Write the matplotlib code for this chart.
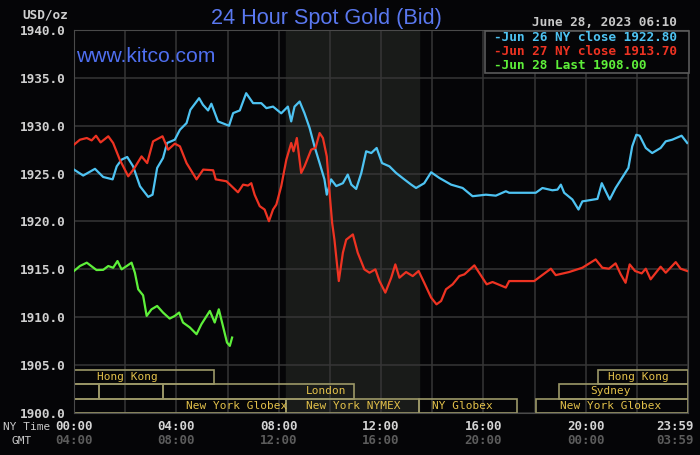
import matplotlib
matplotlib.use("Agg")
import matplotlib.pyplot as plt
import matplotlib.transforms as mtransforms
from matplotlib.patches import Rectangle

# NY-time hours after midnight and bid prices
jun26_hours = [0.00, 0.36, 0.82, 1.14, 1.51, 1.67, 1.86, 2.08, 2.31, 2.58, 2.90, 3.07, 3.25, 3.48,
               3.64, 3.94, 4.14, 4.40, 4.55, 4.89, 5.04, 5.24, 5.37, 5.63, 6.06, 6.22, 6.48, 6.73,
               7.00, 7.32, 7.52, 7.78, 8.10, 8.36, 8.49, 8.62, 8.82, 9.01, 9.21, 9.40, 9.60, 9.79,
               9.88, 10.05, 10.25, 10.51, 10.70, 10.84, 11.03, 11.23, 11.42, 11.62, 11.83, 12.04,
               12.33, 12.59, 12.91, 13.18, 13.37, 13.69, 13.96, 14.28, 14.74, 15.19, 15.58, 16.10,
               16.49, 16.88, 17.01, 18.05, 18.31, 18.70, 18.90, 19.03, 19.16, 19.48, 19.72, 19.87,
               20.46, 20.63, 20.94, 21.17, 21.67, 21.82, 21.98, 22.11, 22.35, 22.60, 22.93, 23.13,
               23.38, 23.75, 23.97]
jun26_price = [1925.42, 1924.80, 1925.50, 1924.65, 1924.40, 1925.76, 1926.46, 1926.74, 1925.76,
               1923.68, 1922.57, 1922.80, 1925.59, 1926.63, 1928.20, 1928.54, 1929.58, 1930.28,
               1931.67, 1932.88, 1932.19, 1931.60, 1932.30, 1930.45, 1930.00, 1931.32, 1931.60,
               1933.40, 1932.36, 1932.36, 1931.84, 1932.00, 1931.30, 1932.00, 1930.45, 1932.00,
               1932.53, 1931.30, 1929.76, 1927.85, 1926.10, 1924.40, 1922.80, 1924.40, 1923.70,
               1924.00, 1924.90, 1923.85, 1923.40, 1925.07, 1927.33, 1927.15, 1927.68, 1926.10,
               1925.76, 1925.07, 1924.40, 1923.85, 1923.50, 1924.00, 1925.14, 1924.55, 1923.85,
               1923.50, 1922.64, 1922.80, 1922.70, 1923.16, 1923.00, 1923.00, 1923.50, 1923.26,
               1923.33, 1923.85, 1923.00, 1922.30, 1921.25, 1922.10, 1922.36, 1924.00, 1922.30,
               1923.50, 1925.60, 1927.85, 1929.06, 1928.96, 1927.68, 1927.15, 1927.68, 1928.37,
               1928.54, 1928.96, 1928.20]

jun27_hours = [0.00, 0.23, 0.50, 0.69, 0.86, 1.04, 1.34, 1.53, 1.79, 2.12, 2.34, 2.64, 2.86, 3.09,
               3.46, 3.68, 3.94, 4.14, 4.40, 4.79, 5.05, 5.44, 5.54, 5.96, 6.41, 6.61, 6.80, 6.93,
               7.06, 7.26, 7.45, 7.62, 7.78, 7.91, 8.10, 8.30, 8.49, 8.58, 8.71, 8.88, 9.01, 9.27,
               9.44, 9.60, 9.73, 9.88, 9.99, 10.09, 10.18, 10.35, 10.51, 10.64, 10.90, 11.09, 11.35,
               11.55, 11.78, 11.94, 12.17, 12.40, 12.56, 12.72, 12.98, 13.24, 13.47, 13.69, 13.96,
               14.17, 14.35, 14.54, 14.80, 15.06, 15.26, 15.65, 16.13, 16.36, 16.88, 17.01, 17.99,
               18.25, 18.64, 18.83, 19.35, 19.87, 20.39, 20.65, 20.91, 21.17, 21.37, 21.56, 21.72,
               21.93, 22.19, 22.35, 22.54, 22.93, 23.13, 23.52, 23.71, 23.97]
jun27_price = [1928.02, 1928.54, 1928.72, 1928.47, 1928.96, 1928.26, 1928.90, 1928.20, 1926.46,
               1924.72, 1925.49, 1926.80, 1926.10, 1928.37, 1928.90, 1927.50, 1928.13, 1927.85,
               1926.10, 1924.40, 1925.42, 1925.35, 1924.40, 1924.20, 1923.05, 1923.85, 1923.75,
               1924.00, 1922.80, 1921.60, 1921.25, 1920.03, 1921.25, 1921.77, 1923.68, 1926.46,
               1928.20, 1927.33, 1928.72, 1925.07, 1925.76, 1927.50, 1927.68, 1929.24, 1928.72,
               1926.80, 1923.00, 1919.86, 1918.10, 1913.78, 1916.74, 1918.10, 1918.65, 1916.74,
               1915.00, 1914.65, 1915.00, 1913.78, 1912.57, 1914.13, 1915.52, 1914.13, 1914.72,
               1914.30, 1914.83, 1913.60, 1912.05, 1911.35, 1911.70, 1912.92, 1913.44, 1914.30,
               1914.48, 1915.42, 1913.44, 1913.68, 1913.10, 1913.78, 1913.78, 1914.30, 1915.07,
               1914.40, 1914.72, 1915.17, 1916.04, 1915.17, 1915.07, 1915.63, 1914.48, 1913.60,
               1915.52, 1914.83, 1914.58, 1915.07, 1913.96, 1915.28, 1914.65, 1915.76, 1915.07,
               1914.83]

jun28_hours = [0.00, 0.23, 0.50, 0.88, 1.14, 1.34, 1.53, 1.70, 1.86, 2.06, 2.25, 2.38, 2.51, 2.70,
               2.84, 3.03, 3.25, 3.48, 3.74, 3.94, 4.11, 4.26, 4.53, 4.79, 4.98, 5.31, 5.50, 5.66,
               5.82, 5.98, 6.09, 6.18]
jun28_price = [1914.83, 1915.35, 1915.70, 1914.93, 1914.95, 1915.35, 1915.17, 1915.87, 1915.00,
               1915.35, 1915.70, 1914.65, 1912.92, 1912.29, 1910.14, 1910.83, 1911.18, 1910.49,
               1909.86, 1910.14, 1910.49, 1909.45, 1908.93, 1908.23, 1909.27, 1910.66, 1909.45,
               1910.83, 1909.10, 1907.36, 1907.01, 1907.88]

legend_labels = ["Jun 26 NY close 1922.80", "Jun 27 NY close 1913.70", "Jun 28 Last 1908.00"]
stamp = "June 28, 2023 06:10"

# trading sessions: name, start hour, end hour, row (0 = top)
session_names = ["Hong Kong", "", "", "London", "New York Globex", "New York NYMEX",
                 "NY Globex", "New York Globex", "Sydney", "Hong Kong"]
session_start = [0.0, 0.0, 0.96, 3.46, 0.0, 8.28, 13.47, 18.06, 18.96, 20.50]
session_end = [5.46, 0.96, 3.46, 10.95, 8.28, 13.47, 17.33, 24.0, 24.0, 24.0]
session_row = [0, 1, 1, 1, 2, 2, 2, 2, 1, 0]
nymex_open, nymex_close = 8.28, 13.47

ny_ticks = [0, 4, 8, 12, 16, 20, 24]
ny_labels = ["00:00", "04:00", "08:00", "12:00", "16:00", "20:00", "23:59"]
gmt_labels = ["04:00", "08:00", "12:00", "16:00", "20:00", "00:00", "03:59"]

BG = "#050507"
MONO = "DejaVu Sans Mono"
W, H = 700, 455

fig = plt.figure(figsize=(7, 4.55), dpi=100, facecolor=BG)
ax = fig.add_axes([74 / W, 1 - 413 / H, 614 / W, 383 / H], facecolor=BG)
ax.set_xlim(0, 24)
ax.set_ylim(1900, 1940)

ax.axvspan(nymex_open, nymex_close, color="#191b19", zorder=0)
ax.set_xticks(range(0, 25, 2))
ax.set_yticks(range(1900, 1941, 5))
ax.set_yticklabels([f"{v:.1f}" for v in range(1900, 1941, 5)])
ax.grid(color="#363636", lw=1.1, zorder=1)
ax.set_axisbelow(True)
ax.tick_params(length=0, labelbottom=False, pad=6, colors="#d0d0d0")
for lab in ax.get_yticklabels():
    lab.set_fontfamily(MONO)
    lab.set_fontweight("bold")
    lab.set_fontsize(9.2)
for s in ax.spines.values():
    s.set_color("#4a4a4a")

ax.plot(jun26_hours, jun26_price, color="#4ec3f2", lw=1.6, zorder=3)
ax.plot(jun27_hours, jun27_price, color="#ee3322", lw=1.6, zorder=3)
ax.plot(jun28_hours, jun28_price, color="#5ef03a", lw=1.6, zorder=3)

# session boxes along the bottom
rows = [(1903.05, 1904.5), (1901.5, 1903.05), (1900.02, 1901.5)]
label_at = [2.1, None, None, 9.87, 6.37, 10.9, 15.19, 20.98, 20.96, 22.05]
for name, a, b, r, lx in zip(session_names, session_start, session_end, session_row, label_at):
    lo, hi = rows[r]
    ax.add_patch(Rectangle((a, lo), b - a, hi - lo, fill=False, ec="#9c9868", lw=1.2, zorder=2))
    if name:
        ax.text(lx, (lo + hi) / 2, name, color="#e2c04a", family=MONO, fontsize=8,
                ha="center", va="center", zorder=4)

# time labels under the plot
trans = mtransforms.blended_transform_factory(ax.transData, fig.transFigure)
for t, a, g in zip(ny_ticks, ny_labels, gmt_labels):
    ha = "right" if t == 24 else "center"
    x = 24.22 if t == 24 else t
    ax.text(x, 1 - 426 / H, a, transform=trans, color="#d4d4d4", family=MONO,
            weight="bold", fontsize=8.9, ha=ha, va="center", clip_on=False)
    ax.text(x, 1 - 441 / H, g, transform=trans, color="#5c5c5c", family=MONO,
            weight="bold", fontsize=8.9, ha=ha, va="center", clip_on=False)
fig.text(3 / W, 1 - 427.5 / H, "NY Time", color="#c8c8c8", family=MONO, fontsize=8, va="center")
fig.text(12 / W, 1 - 441 / H, "GMT", color="#c8c8c8", family=MONO, fontsize=8, va="center")

fig.text(68 / W, 1 - 15 / H, "USD/oz", color="#d0d0d0", family=MONO, weight="bold",
         fontsize=9.2, ha="right", va="center")
fig.text(326.5 / W, 1 - 24 / H, "24 Hour Spot Gold (Bid)", color="#5a78f0",
         family="Liberation Sans", fontsize=15.6, ha="center", va="baseline")
fig.text(76 / W, 1 - 61.7 / H, "www.kitco.com", color="#4f6ff0",
         family="Liberation Sans", fontsize=15.2, ha="left", va="baseline", zorder=5)
fig.text(677 / W, 1 - 22 / H, stamp, color="#c8c8c8", family=MONO, weight="bold",
         fontsize=9.2, ha="right", va="center")

# legend box
fig.patches.append(Rectangle((485 / W, 1 - 73.3 / H), 204 / W, 42.3 / H, transform=fig.transFigure,
                             facecolor=BG, edgecolor="#5a5a5a", lw=1.2, zorder=4))
for i, (lab, c) in enumerate(zip(legend_labels, ["#4ec3f2", "#ee3322", "#5ef03a"])):
    fig.text(494 / W, 1 - (37.7 + 14 * i) / H, "-" + lab, color=c, family=MONO, weight="bold",
             fontsize=9.2, ha="left", va="center", zorder=6)

fig.savefig("out.png", dpi=100, facecolor=BG)
